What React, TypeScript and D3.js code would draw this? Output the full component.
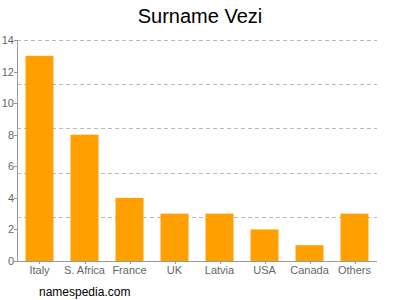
import React from "react";
import * as d3 from "d3";

const categories = ["Italy", "S. Africa", "France", "UK", "Latvia", "USA", "Canada", "Others"];
const values = [13, 8, 4, 3, 3, 2, 1, 3];
const yTicks = [0, 2, 4, 6, 8, 10, 12, 14];
const gridValues = [2.8, 5.6, 8.4, 11.2, 14];

export default function App() {
  const W = 400, H = 300;
  const left = 17, right = 377, top = 40, bottom = 261;
  const x = d3.scaleBand<string>().domain(categories).range([left, right]).paddingInner(0.378).paddingOuter(0.189);
  const y = d3.scaleLinear().domain([0, 14]).range([bottom, top]);
  const font = "Arial, Liberation Sans, sans-serif";
  return (
    <svg width={W} height={H} style={{ position: "absolute", left: 0, top: 0 }} fontFamily={font}>
      <rect width={W} height={H} fill="#fff" />
      <text x={200} y={23} textAnchor="middle" fontSize={20} fill="#000">Surname Vezi</text>
      {gridValues.map((g) => (
        <line key={g} x1={left} x2={right} y1={Math.round(y(g)) + 0.5} y2={Math.round(y(g)) + 0.5} stroke="#bbb" strokeDasharray="4,3" />
      ))}
      {categories.map((c, i) => (
        <rect key={c} x={x(c)!} y={y(values[i])} width={x.bandwidth()} height={bottom - y(values[i])} fill="#FFA000" />
      ))}
      <line x1={left + 0.5} x2={left + 0.5} y1={top} y2={bottom} stroke="#999" />
      <line x1={left} x2={right} y1={bottom + 0.5} y2={bottom + 0.5} stroke="#999" />
      {yTicks.map((t) => (
        <g key={t}>
          <line x1={left - 3} x2={left} y1={Math.round(y(t)) + 0.5} y2={Math.round(y(t)) + 0.5} stroke="#999" />
          <text x={left - 3} y={y(t) + 4} textAnchor="end" fontSize={11} fill="#666">{t}</text>
        </g>
      ))}
      {categories.map((c) => (
        <g key={c}>
          <line x1={Math.round(x(c)! + x.bandwidth() / 2) + 0.5} x2={Math.round(x(c)! + x.bandwidth() / 2) + 0.5} y1={bottom} y2={bottom + 3} stroke="#999" />
          <text x={x(c)! + x.bandwidth() / 2} y={274} textAnchor="middle" fontSize={11} fill="#666">{c}</text>
        </g>
      ))}
      <text x={39} y={296} fontSize={12} fill="#000">namespedia.com</text>
    </svg>
  );
}
